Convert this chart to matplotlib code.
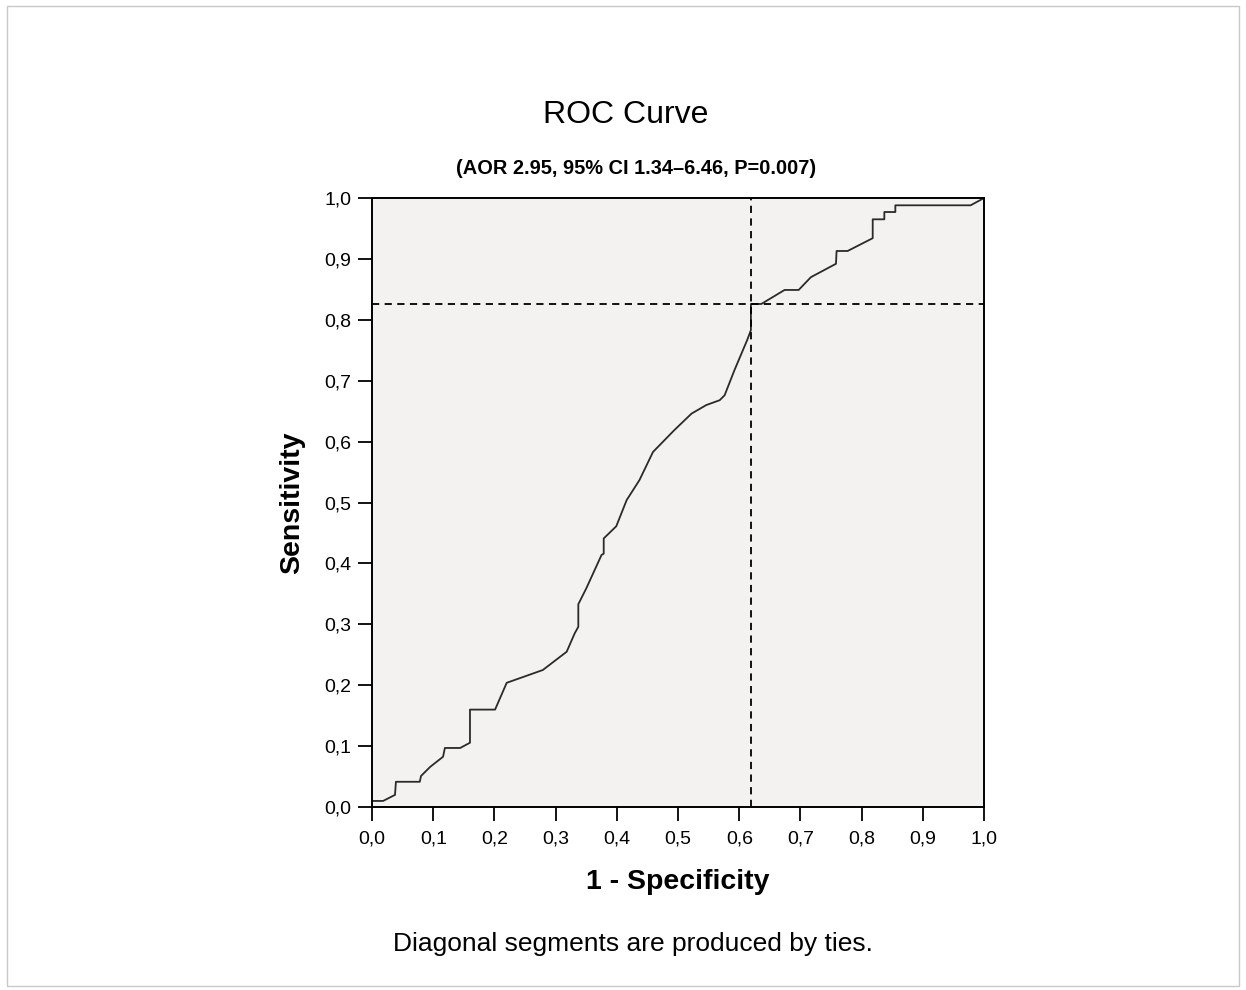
import numpy as np
import matplotlib
matplotlib.use("Agg")
import matplotlib.pyplot as plt
from matplotlib.patches import Rectangle
from matplotlib.ticker import FuncFormatter

plt.rcParams['font.family'] = ['Liberation Sans', 'DejaVu Sans']

# ROC curve points
fpr = [0.0, 0.0, 0.018, 0.0375, 0.039, 0.078, 0.080, 0.095, 0.116, 0.119,
       0.144, 0.160, 0.160, 0.201, 0.220, 0.279, 0.318, 0.331, 0.337, 0.337,
       0.350, 0.375, 0.3785, 0.3785, 0.399, 0.416, 0.437, 0.459, 0.494, 0.522,
       0.546, 0.568, 0.576, 0.592, 0.613, 0.619, 0.619, 0.636, 0.674, 0.697,
       0.717, 0.758, 0.759, 0.777, 0.818, 0.818, 0.837, 0.837, 0.855, 0.855,
       0.978, 1.0]
tpr = [0.0, 0.01, 0.01, 0.02, 0.0415, 0.0415, 0.051, 0.066, 0.0826, 0.097,
       0.097, 0.1056, 0.16, 0.16, 0.204, 0.225, 0.255, 0.285, 0.296, 0.333,
       0.359, 0.414, 0.416, 0.441, 0.461, 0.504, 0.537, 0.583, 0.619, 0.646,
       0.660, 0.668, 0.676, 0.717, 0.767, 0.783, 0.826, 0.826, 0.849, 0.849,
       0.870, 0.892, 0.913, 0.913, 0.934, 0.965, 0.965, 0.977, 0.977, 0.988,
       0.988, 1.0]

cut_fpr = 0.619
cut_tpr = 0.826
ticks = [0.0, 0.1, 0.2, 0.3, 0.4, 0.5, 0.6, 0.7, 0.8, 0.9, 1.0]

fig = plt.figure(figsize=(12.46, 9.9), dpi=100)
fig.patch.set_facecolor('white')
fig.patches.append(Rectangle((0.006, 0.004), 0.988, 0.99, transform=fig.transFigure,
                             fill=False, edgecolor='#c8c8c8', linewidth=1))

ax = fig.add_axes([0.2986, 0.1848, 0.4912, 0.6152])
ax.set_facecolor('#f3f2f1')
ax.plot(fpr, tpr, color='#2a2a2a', linewidth=1.3)
ax.plot([cut_fpr, cut_fpr], [0, 1], color='black', linewidth=1.3, linestyle=(0, (4, 3)))
ax.plot([0, 1], [cut_tpr, cut_tpr], color='black', linewidth=1.3, linestyle=(0, (4, 3)))

ax.set_xlim(0, 1)
ax.set_ylim(0, 1)
ax.set_xticks(ticks)
ax.set_yticks(ticks)
fmt = FuncFormatter(lambda v, p: f'{v:.1f}'.replace('.', ','))
ax.xaxis.set_major_formatter(fmt)
ax.yaxis.set_major_formatter(fmt)
ax.tick_params(direction='out', length=10, width=1.3, labelsize=14, colors='black')
ax.tick_params(axis='x', pad=7)
ax.tick_params(axis='y', pad=5)
for s in ax.spines.values():
    s.set_linewidth(1.4)
    s.set_color('black')

ax.set_xlabel('1 - Specificity', fontsize=20.5, fontweight='bold', va='center')
ax.set_ylabel('Sensitivity', fontsize=20.5, fontweight='bold', va='center')
ax.xaxis.set_label_coords(0.5, -0.123)
ax.yaxis.set_label_coords(-0.1307, 0.5)

fig.text(0.502, 0.884, 'ROC Curve', ha='center', va='center', fontsize=23)
fig.text(0.5104, 0.8303, '(AOR 2.95, 95% CI 1.34–6.46, P=0.007)', ha='center', va='center',
         fontsize=14.4, fontweight='bold')
fig.text(0.5076, 0.0465, 'Diagonal segments are produced by ties.', ha='center', va='center',
         fontsize=19)

fig.savefig('out.png', dpi=100)
